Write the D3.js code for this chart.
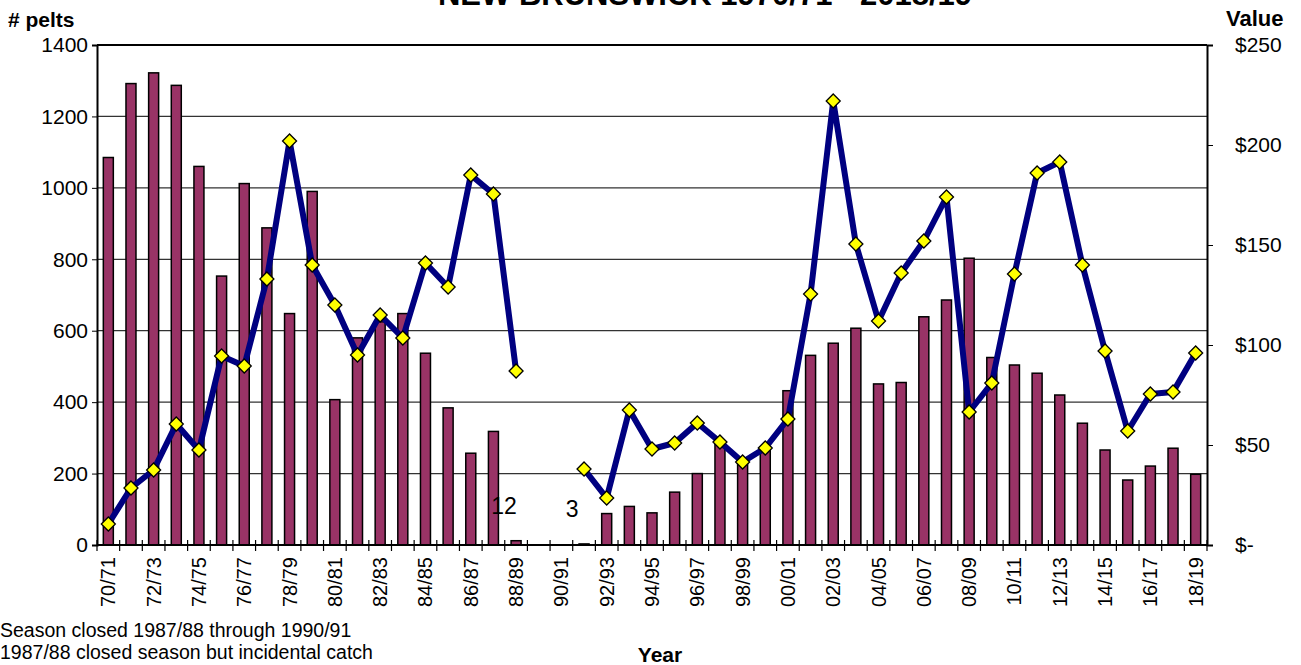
<!DOCTYPE html>
<html>
<head>
<meta charset="utf-8">
<script src="https://cdn.jsdelivr.net/npm/d3@7"></script>
<style>
  body { margin: 0; background: #fff; }
  svg { display: block; font-family: Arial, "Liberation Sans", sans-serif; }
</style>
</head>
<body>
<svg id="chart" width="1301" height="665"></svg>
<script>
// Seasons (categories)
var seasons = ["70/71","71/72","72/73","73/74","74/75","75/76","76/77","77/78","78/79","79/80",
               "80/81","81/82","82/83","83/84","84/85","85/86","86/87","87/88","88/89","89/90",
               "90/91","91/92","92/93","93/94","94/95","95/96","96/97","97/98","98/99","99/00",
               "00/01","01/02","02/03","03/04","04/05","05/06","06/07","07/08","08/09","09/10",
               "10/11","11/12","12/13","13/14","14/15","15/16","16/17","17/18","18/19"];

// Number of pelts (bars, left axis)
var pelts = [1085, 1292, 1322, 1287, 1060, 753, 1012, 888, 648, 990,
             407, 580, 625, 648, 537, 384, 257, 318, 12, null,
             null, 3, 88, 108, 90, 148, 200, 290, 240, 275,
             432, 531, 565, 607, 451, 455, 639, 686, 803, 525,
             504, 481, 420, 341, 266, 182, 221, 271, 198];

// Average value per pelt in $ (line, right axis)
var values = [10.5, 28.5, 37.5, 60.5, 47.5, 94.5, 89.5, 133, 202, 140,
              120, 95, 115, 103.5, 141, 129, 185, 175.5, 87, null,
              null, 38, 23.5, 67.5, 48, 51, 61, 51.5, 41.5, 48.5,
              63, 125.5, 222, 150.5, 112, 136, 152, 174, 66.5, 81,
              135.5, 186, 191.5, 140, 97, 57, 75.5, 76.5, 96];

var leftTicks = [0, 200, 400, 600, 800, 1000, 1200, 1400];
var rightTicks = [0, 50, 100, 150, 200, 250];
var rightTickLabels = ["$-", "$50", "$100", "$150", "$200", "$250"];
var xTickLabels = seasons.filter(function(d, i) { return i % 2 === 0; });

// footnote markers shown next to bars
var barNotes = [{season: "88/89", text: "12"}, {season: "91/92", text: "3"}];
var footnotes = ["Season closed 1987/88 through 1990/91",
                 "1987/88 closed season but incidental catch"];

var svg = d3.select("#chart");
var margin = {top: 45, right: 94, bottom: 120, left: 97};
var width = 1301 - margin.left - margin.right;
var height = 665 - margin.top - margin.bottom;
var g = svg.append("g").attr("transform", "translate(" + margin.left + "," + margin.top + ")");

// Scales
var x = d3.scaleBand().domain(seasons).range([0, width]).padding(0);
var y = d3.scaleLinear().domain([0, 1400]).range([height, 0]);
var y2 = d3.scaleLinear().domain([0, 250]).range([height, 0]);
var barW = 10;

// Gridlines
g.selectAll(".grid")
    .data(leftTicks.filter(function(d) { return d > 0 && d < 1400; }))
    .enter().append("line")
    .attr("x1", 0).attr("x2", width)
    .attr("y1", function(d) { return y(d); })
    .attr("y2", function(d) { return y(d); })
    .attr("stroke", "#333")
    .attr("stroke-width", 1.2);

// Bars
var barData = seasons.map(function(s, i) { return {season: s, v: pelts[i]}; })
    .filter(function(d) { return d.v !== null; });

g.selectAll(".bar")
    .data(barData)
    .enter().append("rect")
    .attr("x", function(d) { return x(d.season) + x.bandwidth() / 2 - barW / 2; })
    .attr("y", function(d) { return y(d.v); })
    .attr("width", barW)
    .attr("height", function(d) { return height - y(d.v); })
    .attr("fill", "#993366")
    .attr("stroke", "#000")
    .attr("stroke-width", 1.5);

// Footnote markers
g.selectAll(".note")
    .data(barNotes)
    .enter().append("text")
    .attr("x", function(d) { return x(d.season) + x.bandwidth() / 2 - 12; })
    .attr("y", function(d) { return y(pelts[seasons.indexOf(d.season)]) - 27; })
    .attr("text-anchor", "middle")
    .style("font-size", "23px")
    .text(function(d) { return d.text; });

// Line
var lineData = seasons.map(function(s, i) { return {season: s, v: values[i]}; });
var line = d3.line()
    .defined(function(d) { return d.v !== null; })
    .x(function(d) { return x(d.season) + x.bandwidth() / 2; })
    .y(function(d) { return y2(d.v); });

g.append("path")
    .datum(lineData)
    .attr("d", line)
    .attr("fill", "none")
    .attr("stroke", "#000080")
    .attr("stroke-width", 6)
    .attr("stroke-linejoin", "round");

// Diamond markers
g.selectAll(".marker")
    .data(lineData.filter(function(d) { return d.v !== null; }))
    .enter().append("path")
    .attr("transform", function(d) {
        return "translate(" + (x(d.season) + x.bandwidth() / 2) + "," + y2(d.v) + ")";
    })
    .attr("d", "M0,-7L7,0L0,7L-7,0Z")
    .attr("fill", "#ffff00")
    .attr("stroke", "#000")
    .attr("stroke-width", 1.3);

// Plot frame top
g.append("line").attr("x1", 0).attr("x2", width).attr("y1", 0).attr("y2", 0)
    .attr("stroke", "#000").attr("stroke-width", 2);

// Left axis
var yAxis = g.append("g")
    .call(d3.axisLeft(y).tickValues(leftTicks).tickSize(5).tickPadding(4).tickFormat(d3.format("d")));
yAxis.select(".domain").attr("stroke-width", 2);
yAxis.selectAll("text").style("font-size", "21px").attr("fill", "#000");

// Right axis
var yAxis2 = g.append("g")
    .attr("transform", "translate(" + width + ",0)")
    .call(d3.axisRight(y2).tickValues(rightTicks).tickSize(6).tickPadding(22)
        .tickFormat(function(d, i) { return rightTickLabels[i]; }));
yAxis2.select(".domain").attr("stroke-width", 2);
yAxis2.selectAll("text").style("font-size", "21px").attr("fill", "#000");

// Bottom axis: ticks at category boundaries
var xAxis = g.append("g").attr("transform", "translate(0," + height + ")");
xAxis.append("line").attr("x1", 0).attr("x2", width)
    .attr("stroke", "#000").attr("stroke-width", 2);
xAxis.selectAll(".btick")
    .data(seasons.concat(["end"]))
    .enter().append("line")
    .attr("x1", function(d, i) { return i * x.step(); })
    .attr("x2", function(d, i) { return i * x.step(); })
    .attr("y1", -5).attr("y2", 6)
    .attr("stroke", "#000").attr("stroke-width", 1.2);
xAxis.selectAll(".xlabel")
    .data(xTickLabels)
    .enter().append("text")
    .attr("transform", function(d) {
        return "translate(" + (x(d) + x.bandwidth() / 2 + 7) + ",12) rotate(-90)";
    })
    .attr("text-anchor", "end")
    .style("font-size", "20px")
    .text(function(d) { return d; });

// Titles
svg.append("text")
    .attr("x", 705).attr("y", 5)
    .attr("text-anchor", "middle")
    .style("font-size", "31px").style("font-weight", "bold")
    .text("NEW BRUNSWICK 1970/71 - 2018/19");

svg.append("text")
    .attr("x", 8).attr("y", 27)
    .style("font-size", "21px").style("font-weight", "bold")
    .text("# pelts");

svg.append("text")
    .attr("x", 1226).attr("y", 26)
    .style("font-size", "22px").style("font-weight", "bold")
    .text("Value");

svg.append("text")
    .attr("x", 660).attr("y", 662)
    .attr("text-anchor", "middle")
    .style("font-size", "21px").style("font-weight", "bold")
    .text("Year");

svg.selectAll(".foot")
    .data(footnotes)
    .enter().append("text")
    .attr("x", 0)
    .attr("y", function(d, i) { return 637 + i * 22; })
    .style("font-size", "19.5px")
    .text(function(d) { return d; });
</script>
</body>
</html>
